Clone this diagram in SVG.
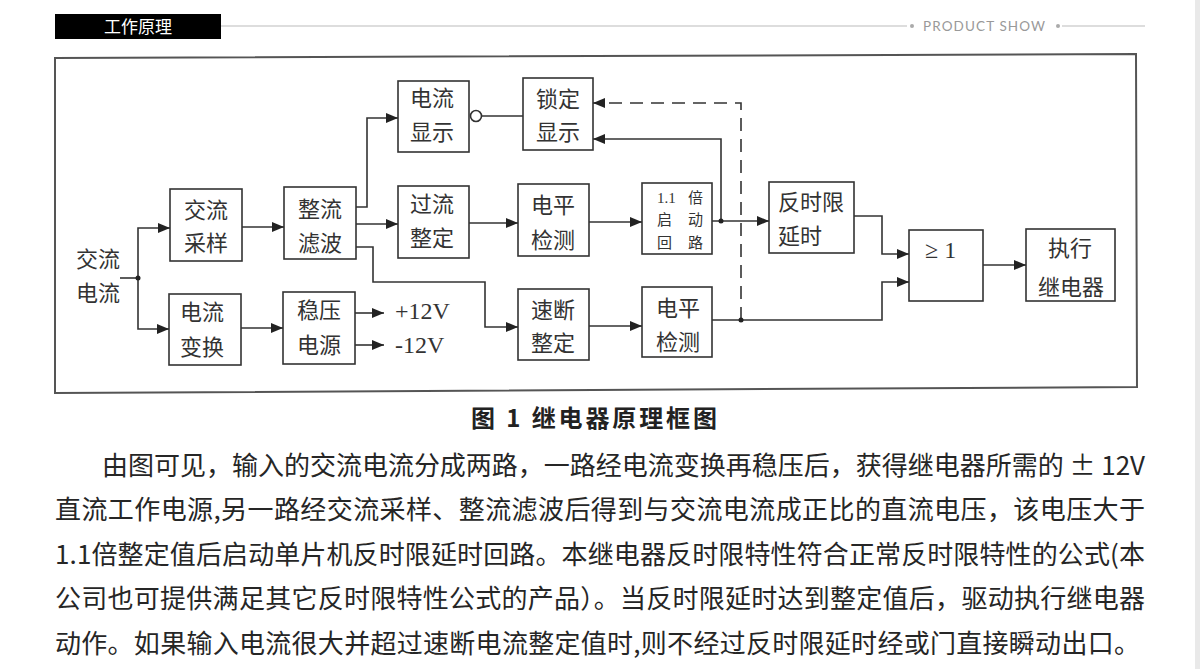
<svg xmlns="http://www.w3.org/2000/svg" width="1200" height="669" viewBox="0 0 1200 669">
<style>
.box{fill:none;stroke:#333;stroke-width:1.6}
.ln{fill:none;stroke:#333;stroke-width:1.6}
.dash{fill:none;stroke:#333;stroke-width:1.6;stroke-dasharray:13 8}
.t{font-family:"Noto Sans CJK SC","Liberation Serif",sans-serif;font-size:22px;fill:#333;text-anchor:middle}
.tl{font-family:"Noto Sans CJK SC","Liberation Serif",sans-serif;font-size:22px;fill:#333;text-anchor:start}
.ts{font-family:"Liberation Serif","Noto Sans CJK SC",serif;font-size:15px;fill:#333}
.tc{font-family:"Noto Sans CJK SC",sans-serif;font-size:15px;fill:#333}
.v{font-family:"Liberation Serif",serif;font-size:24px;fill:#333}
.p{font-family:"Noto Sans CJK SC","Liberation Serif",sans-serif;font-size:26px;fill:#262626}
</style>
<defs>
<marker id="arr" markerUnits="userSpaceOnUse" markerWidth="13" markerHeight="10" refX="12" refY="5" orient="auto">
<path d="M0,0 L12,5 L0,10 Z" fill="#222"/>
</marker>
</defs>
<rect width="1200" height="669" fill="#ffffff"/>
<rect x="1195" y="0" width="5" height="669" fill="#e9e9e9"/>

<g id="header">
<rect x="55" y="14" width="166" height="25" fill="#000"/>
<text x="138" y="33" font-family="Noto Sans CJK SC,sans-serif" font-size="17" fill="#fff" text-anchor="middle">工作原理</text>
<path d="M221,26 H907 M1062,26 H1145" stroke="#bbb" stroke-width="1.2" fill="none"/>
<circle cx="912" cy="26" r="2" fill="#aaa"/>
<circle cx="1058" cy="26" r="2" fill="#aaa"/>
<text x="923" y="31" font-family="Lato,'Open Sans',sans-serif" font-size="13.5" fill="#999" letter-spacing="2" textLength="124" lengthAdjust="spacing">PRODUCT SHOW</text>
</g>

<g id="frame">
<path d="M55,58 L1136,54 L1137,387 L55,393 Z" fill="none" stroke="#555" stroke-width="2"/>
</g>

<g id="input">
<text class="t" x="98" y="267">交流</text>
<text class="t" x="98" y="301">电流</text>
</g>

<g id="n-jlcy"><rect class="box" x="170" y="189" width="72" height="72"/><text class="t" x="206" y="218">交流</text><text class="t" x="206" y="251">采样</text></g>
<g id="n-zllb"><rect class="box" x="284" y="187" width="72" height="72"/><text class="t" x="320" y="217">整流</text><text class="t" x="320" y="251">滤波</text></g>
<g id="n-dlxs"><rect class="box" x="398" y="81" width="71" height="71"/><text class="t" x="432" y="106">电流</text><text class="t" x="432" y="140">显示</text></g>
<g id="n-glzd"><rect class="box" x="398" y="186" width="71" height="72"/><text class="t" x="432" y="212">过流</text><text class="t" x="432" y="246">整定</text></g>
<g id="n-dlbh"><rect class="box" x="169" y="294" width="72" height="71"/><text class="t" x="202" y="320">电流</text><text class="t" x="202" y="355">变换</text></g>
<g id="n-wydy"><rect class="box" x="283" y="292" width="72" height="72"/><text class="t" x="319" y="318">稳压</text><text class="t" x="319" y="353">电源</text></g>
<g id="n-sdxs"><rect class="box" x="523" y="78" width="70" height="72"/><text class="t" x="558" y="107">锁定</text><text class="t" x="558" y="140">显示</text></g>
<g id="n-dpjc1"><rect class="box" x="518" y="184" width="71" height="72"/><text class="t" x="553" y="213">电平</text><text class="t" x="553" y="248">检测</text></g>
<g id="n-qdhl"><rect class="box" x="642" y="183" width="70" height="71"/>
<text class="ts" x="657" y="203">1.1</text><text class="tc" x="688" y="203">倍</text>
<text class="tc" x="657" y="225">启</text><text class="tc" x="688" y="225">动</text>
<text class="tc" x="657" y="248">回</text><text class="tc" x="688" y="248">路</text></g>
<g id="n-sdzd"><rect class="box" x="518" y="289" width="71" height="71"/><text class="t" x="553" y="318">速断</text><text class="t" x="553" y="351">整定</text></g>
<g id="n-dpjc2"><rect class="box" x="642" y="287" width="70" height="70"/><text class="t" x="678" y="316">电平</text><text class="t" x="678" y="350">检测</text></g>
<g id="n-fsx"><rect class="box" x="769" y="182" width="85" height="71"/><text class="tl" x="778" y="210">反时限</text><text class="tl" x="778" y="244">延时</text></g>
<g id="n-or"><rect class="box" x="909" y="230" width="74" height="71"/><text class="v" x="925" y="258">≥ 1</text></g>
<g id="n-zxjdq"><rect class="box" x="1026" y="229" width="89" height="72"/><text class="t" x="1070" y="256">执行</text><text class="t" x="1071" y="295">继电器</text></g>

<g id="labels">
<text class="v" x="395" y="319">+12V</text>
<text class="v" x="395" y="353">-12V</text>
</g>

<g id="connectors">
<path class="ln" d="M120,278 H138"/>
<path class="ln" d="M138,278 V228 H170" marker-end="url(#arr)"/>
<path class="ln" d="M138,278 V329 H169" marker-end="url(#arr)"/>
<circle cx="138" cy="278" r="2.5" fill="#222"/>
<path class="ln" d="M242,227 H284" marker-end="url(#arr)"/>
<path class="ln" d="M241,328 H283" marker-end="url(#arr)"/>
<path class="ln" d="M356,207 H367 V118 H398" marker-end="url(#arr)"/>
<path class="ln" d="M356,224 H398" marker-end="url(#arr)"/>
<path class="ln" d="M356,247 H373 V282 H485 V327 H518" marker-end="url(#arr)"/>
<path class="ln" d="M355,313 H384" marker-end="url(#arr)"/>
<path class="ln" d="M355,345 H384" marker-end="url(#arr)"/>
<circle cx="476" cy="116" r="5.5" fill="#fff" stroke="#333" stroke-width="1.6"/>
<path class="ln" d="M481.5,116 H523"/>
<path class="ln" d="M469,223 H518" marker-end="url(#arr)"/>
<path class="ln" d="M589,222 H642" marker-end="url(#arr)"/>
<path class="ln" d="M712,221 H769" marker-end="url(#arr)"/>
<path class="ln" d="M721,221 V139 H593" marker-end="url(#arr)"/>
<circle cx="721" cy="221" r="2.5" fill="#222"/>
<path class="dash" d="M741,320 V103 H593" marker-end="url(#arr)"/>
<path class="ln" d="M589,326 H642" marker-end="url(#arr)"/>
<path class="ln" d="M712,320 H882 V282 H909" marker-end="url(#arr)"/>
<circle cx="741" cy="320" r="2.5" fill="#222"/>
<path class="ln" d="M854,216 H882 V254 H909" marker-end="url(#arr)"/>
<path class="ln" d="M983,265 H1026" marker-end="url(#arr)"/>
</g>

<g id="caption">
<text x="471" y="427" font-family="Noto Sans CJK SC,sans-serif" font-size="24" font-weight="bold" fill="#222" textLength="246" lengthAdjust="spacing">图 1  继电器原理框图</text>
</g>

<g id="body">
<text class="p" x="102" y="475" textLength="1043" lengthAdjust="spacing">由图可见，输入的交流电流分成两路，一路经电流变换再稳压后，获得继电器所需的 ± 12V</text>
<text class="p" x="55" y="519" textLength="1090" lengthAdjust="spacing">直流工作电源,另一路经交流采样、整流滤波后得到与交流电流成正比的直流电压，该电压大于</text>
<text class="p" x="55" y="564" textLength="1090" lengthAdjust="spacing">1.1倍整定值后启动单片机反时限延时回路。本继电器反时限特性符合正常反时限特性的公式(本</text>
<text class="p" x="55" y="608" textLength="1090" lengthAdjust="spacing">公司也可提供满足其它反时限特性公式的产品）。当反时限延时达到整定值后，驱动执行继电器</text>
<text class="p" x="55" y="653" textLength="1085" lengthAdjust="spacing">动作。如果输入电流很大并超过速断电流整定值时,则不经过反时限延时经或门直接瞬动出口。</text>
</g>
</svg>
